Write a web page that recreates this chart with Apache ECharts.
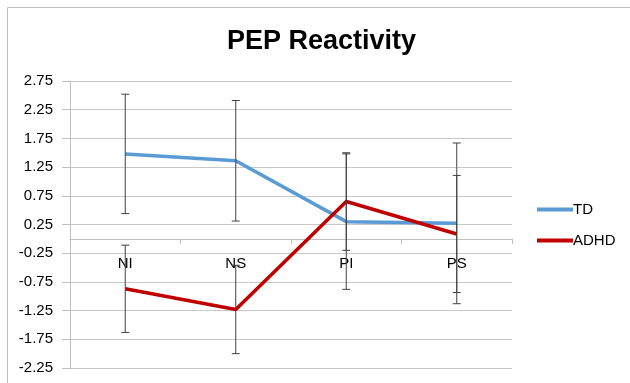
<!DOCTYPE html>
<html>
<head>
<meta charset="utf-8">
<script src="https://cdn.jsdelivr.net/npm/echarts@6/dist/echarts.min.js"></script>
<style>html,body{margin:0;padding:0;background:#fff}#c{width:630px;height:383px}</style>
</head>
<body>
<div id="c"></div>
<script>
var categories = ['NI', 'NS', 'PI', 'PS'];
var tdValues = [1.48, 1.36, 0.30, 0.27];
var adhdValues = [-0.87, -1.23, 0.65, 0.085];
var tdErr = [1.04, 1.05, 1.18, 1.40];
var adhdErr = [0.76, 0.77, 0.85, 1.02];
var yTicks = [-2.25, -1.75, -1.25, -0.75, -0.25, 0.25, 0.75, 1.25, 1.75, 2.25, 2.75];

var FONT = '"Liberation Sans", Arial, sans-serif';

function errData(vals, errs) {
  return vals.map(function (v, i) { return [i, v - errs[i], v + errs[i]]; });
}
function renderErr(params, api) {
  var x = api.value(0);
  var lo = api.coord([x, api.value(1)]);
  var hi = api.coord([x, api.value(2)]);
  var w = 4;
  var st = { stroke: '#404040', lineWidth: 1 };
  return {
    type: 'group',
    children: [
      { type: 'line', shape: { x1: lo[0], y1: lo[1], x2: hi[0], y2: hi[1] }, style: st },
      { type: 'line', shape: { x1: lo[0] - w, y1: lo[1], x2: lo[0] + w, y2: lo[1] }, style: st },
      { type: 'line', shape: { x1: hi[0] - w, y1: hi[1], x2: hi[0] + w, y2: hi[1] }, style: st }
    ]
  };
}

var chart = echarts.init(document.getElementById('c'));
chart.setOption({
  animation: false,
  backgroundColor: '#fff',
  textStyle: { fontFamily: FONT },
  title: {
    text: 'PEP Reactivity',
    left: 222,
    top: 23,
    textStyle: { fontFamily: FONT, fontWeight: 'bold', fontSize: 27, color: '#000' }
  },
  graphic: [{
    type: 'rect',
    shape: { x: 7.5, y: 7.5, width: 700, height: 500 },
    style: { fill: 'none', stroke: '#bfbfbf', lineWidth: 1 },
    silent: true
  }],
  legend: {
    orient: 'vertical',
    left: 532,
    top: 197,
    itemWidth: 36,
    itemHeight: 4,
    itemGap: 16,
    icon: 'rect',
    textStyle: { fontFamily: FONT, fontSize: 15, color: '#000', padding: [0, 0, 0, -5] },
    data: ['TD', 'ADHD']
  },
  grid: { left: 70, right: 118, top: 81, bottom: 15, containLabel: false, outerBoundsMode: 'none' },
  xAxis: {
    type: 'category',
    data: categories,
    boundaryGap: true,
    axisLine: { onZero: true, lineStyle: { color: '#bfbfbf', width: 1 } },
    axisTick: { show: true, inside: false, length: 5, lineStyle: { color: '#bfbfbf' } },
    axisLabel: { margin: -112, fontSize: 15, color: '#000', fontFamily: FONT },
    splitLine: { show: false }
  },
  yAxis: {
    type: 'value',
    min: yTicks[0],
    max: yTicks[yTicks.length - 1],
    interval: 0.5,
    axisLine: { show: true, lineStyle: { color: '#bfbfbf' } },
    axisTick: { show: true, length: 8, lineStyle: { color: '#bfbfbf' } },
    axisLabel: {
      margin: 17, fontSize: 15, color: '#000', fontFamily: FONT,
      formatter: function (v) { return v.toFixed(2); }
    },
    splitLine: { show: true, lineStyle: { color: '#c8c8c8', width: 1 } }
  },
  series: [
    {
      name: 'TD', type: 'line', data: tdValues, symbol: 'none',
      lineStyle: { color: '#5b9bd5', width: 3.5 }, itemStyle: { color: '#5b9bd5' }, z: 3
    },
    {
      name: 'ADHD', type: 'line', data: adhdValues, symbol: 'none',
      lineStyle: { color: '#c00000', width: 3.5 }, itemStyle: { color: '#c00000' }, z: 3
    },
    {
      name: 'TD err', type: 'custom', renderItem: renderErr, data: errData(tdValues, tdErr),
      encode: { x: 0, y: [1, 2] }, z: 5, silent: true
    },
    {
      name: 'ADHD err', type: 'custom', renderItem: renderErr, data: errData(adhdValues, adhdErr),
      encode: { x: 0, y: [1, 2] }, z: 5, silent: true
    }
  ]
});
</script>
</body>
</html>
